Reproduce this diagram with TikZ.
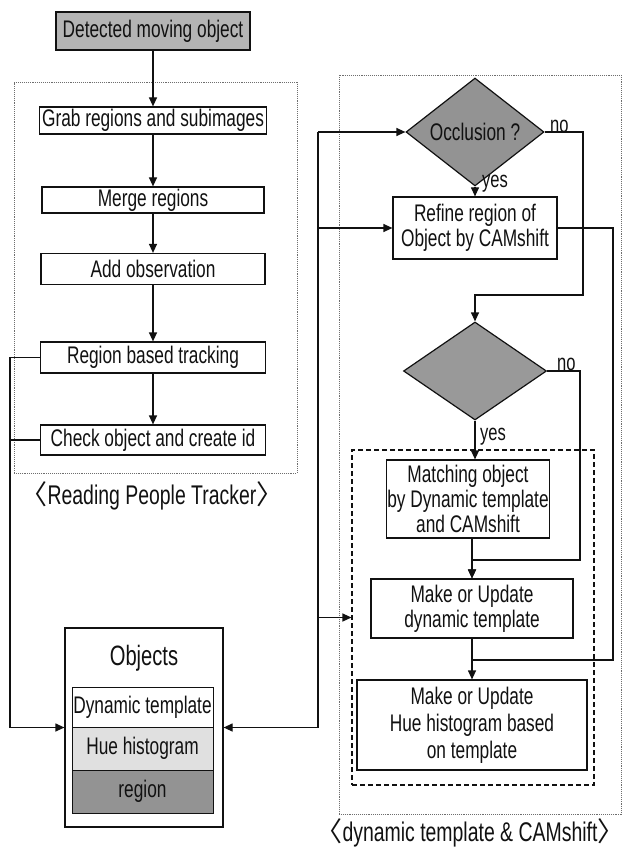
\documentclass[tikz,border=0pt]{standalone}
\usepackage{fontspec}
\setmainfont{Liberation Sans}[FakeStretch=0.72]
\newfontfamily\cjk{Noto Sans CJK KR}
\usetikzlibrary{arrows.meta,positioning,shapes.geometric,calc}
\definecolor{ink}{HTML}{111111}
\definecolor{frame}{HTML}{6E6E6E}
\definecolor{shade}{HTML}{B4B4B4}
\definecolor{shadedeep}{HTML}{939393}
\definecolor{shadelight}{HTML}{E0E0E0}

\begin{document}
\begin{tikzpicture}[
  x=1pt,y=-1pt,
  font=\fontsize{24}{25}\selectfont,
  >={Triangle[length=9pt,width=8pt]},
  arrow/.style={->,line width=1.2pt,draw=ink},
  link/.style={line width=1.2pt,draw=ink},
  box/.style={draw=ink,fill=white,line width=1.2pt,inner sep=1pt,align=center,text=ink},
  greybox/.style={box,fill=shade},
  decision/.style={diamond,draw=ink,line width=1.2pt,inner sep=0pt,text=ink,fill=shadedeep},
  outerframe/.style={draw=frame,densely dotted,line width=0.9pt,inner sep=0pt},
  innerframe/.style={draw=ink,dash pattern=on 5pt off 3pt,line width=1.1pt,inner sep=0pt},
  caption/.style={font=\fontsize{27}{28}\selectfont,text=ink},
  tag/.style={font=\fontsize{23}{24}\selectfont,text=ink,inner sep=1pt}
]
\useasboundingbox (0,0) rectangle (633,850);

% Frames
\node[outerframe,minimum width=283pt,minimum height=391pt] (rptframe) at (155.5,277.5) {};
\node[outerframe,minimum width=282pt,minimum height=739pt] (camframe) at (480,444.5) {};
\node[innerframe,minimum width=242pt,minimum height=335pt] (dashframe) at (473,617.5) {};

% Reading People Tracker
\node[greybox,minimum width=194pt,minimum height=38pt] (detected) at (153,31) {Detected moving object};
\node[box,minimum width=227pt,minimum height=27pt] (grab) at (153,120.5) {Grab regions and subimages};
\node[box,minimum width=222pt,minimum height=26pt] (merge) at (153,200) {Merge regions};
\node[box,minimum width=224pt,minimum height=31pt] (addobs) at (153,269) {Add observation};
\node[box,minimum width=225pt,minimum height=31pt] (track) at (153,357.5) {Region based tracking};
\node[box,minimum width=225pt,minimum height=30pt] (check) at (153,440) {Check object and create id};
\node[caption] (rptlabel) at (152,496) {{\cjk 〈}Reading People Tracker{\cjk 〉}};

% Objects store
\node[box,fill=white,minimum width=158pt,minimum height=199pt] (objects) at (144,727.5) {};
\node[font=\fontsize{28}{29}\selectfont,text=ink] (objtitle) at (144,658) {Objects};
\node[box,line width=1pt,minimum width=141pt,minimum height=40pt] (dyn) at (142.5,707) {Dynamic template};
\node[box,line width=1pt,fill=shadelight,minimum width=141pt,minimum height=43pt] (huerow) at (142.5,748.5) {Hue histogram};
\node[box,line width=1pt,fill=shadedeep,minimum width=141pt,minimum height=43pt] (regrow) at (142.5,791.5) {region};

% dynamic template & CAMshift
\node[decision,minimum width=138pt,minimum height=70pt] (occl) at (475,132) {Occlusion ?};
\node[box,minimum width=164pt,minimum height=62pt] (refine) at (475,228) {Refine region of\\Object by CAMshift};
\node[decision,fill=shade!85!black,minimum width=143pt,minimum height=98pt] (check2) at (475,371) {};
\node[box,minimum width=145pt,minimum height=78pt] (match) at (468,499) {Matching object\\by Dynamic template\\and CAMshift};
\node[box,minimum width=202pt,minimum height=59pt] (make) at (472,608.5) {Make or Update\\dynamic template};
\node[box,minimum width=230pt,minimum height=90pt,font=\fontsize{24}{27}\selectfont] (hue) at (472,725) {Make or Update\\Hue histogram based\\on template};
\node[caption] (camlabel) at (470,833) {{\cjk 〈}dynamic template \& CAMshift{\cjk 〉}};

% Branch labels
\node[tag,anchor=west] (yes1) at (481,184) {yes};
\node[tag,anchor=south west] (no1) at (549,134) {no};
\node[tag,anchor=west] (yes2) at (479,437) {yes};
\node[tag,anchor=south west] (no2) at (556,372) {no};

% Turning points
\coordinate (leftbus) at (10,440);
\coordinate (bustop) at (318,132);
\coordinate (occlturn) at (583,295);
\coordinate (refineturn) at (613,660);
\coordinate (skipturn) at (580,560);

% Arrows
\draw[arrow] (detected) -- (grab);
\draw[arrow] (grab) -- (merge);
\draw[arrow] (merge) -- (addobs);
\draw[arrow] (addobs) -- (track);
\draw[arrow] (track) -- (check);
\draw[link] (check.west) -- (leftbus);
\draw[arrow] (track.west) -| (leftbus) |- (objects.west);

\draw[arrow] (bustop) |- (objects.east);
\draw[arrow] (bustop) -- (occl.west);
\draw[arrow] (bustop |- refine.west) -- (refine.west);
\draw[arrow] (bustop |- dashframe.west) -- (dashframe.west);

\draw[arrow] (occl.south) -- (refine.north);
\draw[arrow] (occl.east) -| (occlturn) -| (check2.north);
\draw[link] (refine.east) -| (refineturn) -- (refineturn -| hue.north);
\draw[arrow] (check2.south) -- (check2.south |- match.north);
\draw[arrow] (check2.east) -| (skipturn) -| (make.north);
\draw[arrow] (match.south -| make.north) -- (make.north);
\draw[arrow] (make.south) -- (hue.north);

\end{tikzpicture}
\end{document}
